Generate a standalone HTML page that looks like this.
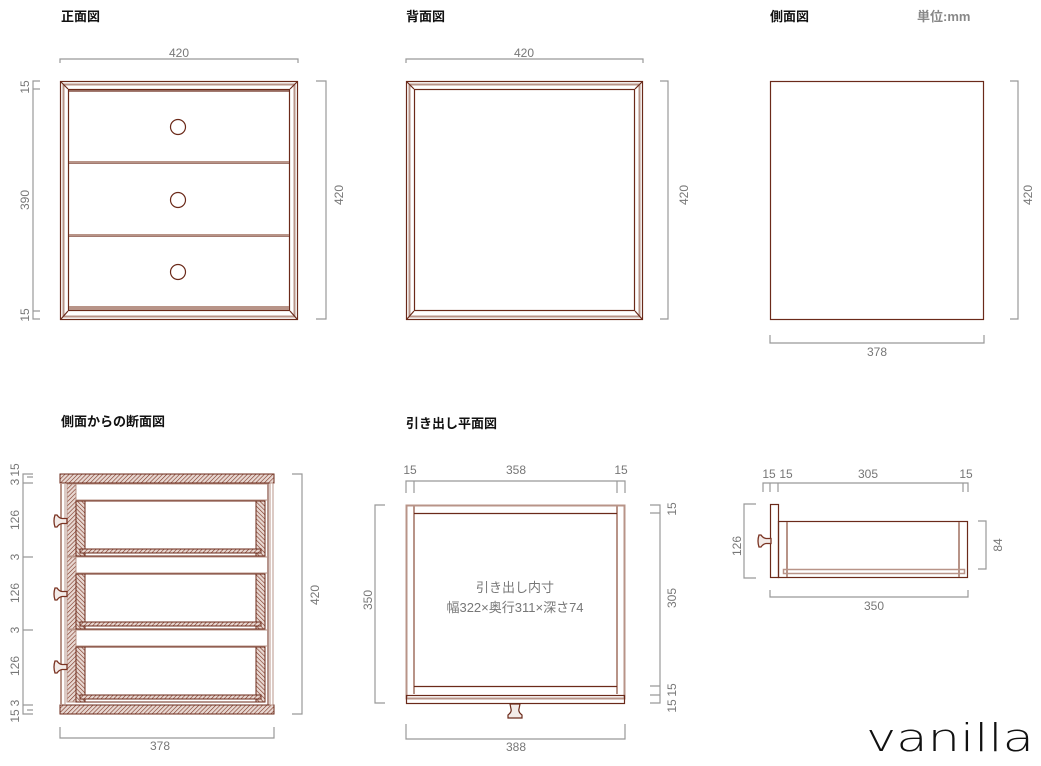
<!DOCTYPE html>
<html><head><meta charset="utf-8"><style>
body{margin:0;background:#fff;width:1041px;height:761px;overflow:hidden}
svg text{font-family:"Liberation Sans","Noto Sans CJK JP",sans-serif}
.h{font-size:13px;font-weight:bold;fill:#111}
.d{font-size:12px;fill:#777}
</style></head><body>
<svg width="1041" height="761" viewBox="0 0 1041 761" xmlns="http://www.w3.org/2000/svg">
<defs>
<pattern id="hat" patternUnits="userSpaceOnUse" width="3" height="3" patternTransform="rotate(45)">
<rect width="3" height="3" fill="#e8d8d2"/><line x1="0" y1="0" x2="0" y2="3" stroke="#7a3322" stroke-width="1.2"/>
</pattern>
<pattern id="hat2" patternUnits="userSpaceOnUse" width="3" height="3" patternTransform="rotate(-45)">
<rect width="3" height="3" fill="#e8d8d2"/><line x1="0" y1="0" x2="0" y2="3" stroke="#7a3322" stroke-width="1.2"/>
</pattern>
<g id="knobL"><path d="M15,-2.5 L10,-2.5 Q7,-3 5,-6 L3,-6 Q1,0 3,6 L5,6 Q7,3 10,2.5 L15,2.5 Z" fill="#f3ebe8" stroke="#7a3322" stroke-width="1.3"/></g>
</defs>
<text class="h" x="61" y="21">正面図</text>
<text class="h" x="406" y="21">背面図</text>
<text class="h" x="770" y="21">側面図</text>
<text x="917" y="21" style="font-size:13px;font-weight:bold;fill:#888">単位:mm</text>
<text class="h" x="61" y="426">側面からの断面図</text>
<text class="h" x="406" y="428">引き出し平面図</text>

<g fill="none" stroke="#999" stroke-width="1.2">
<path d="M60,63V59H298V63"/><path d="M40,81H33V319H40M33,89H40M33,311H40"/><path d="M316,81H326V319H316"/>
<path d="M406,63V59H643V63"/><path d="M660,81H668V319H660"/>
<path d="M1010,81H1018V319H1010"/><path d="M770,335V343H984V335"/>
<path d="M33,474H23V714H33M23,483H33M23,557H33M23,630H33M23,705H33M27,477H33M27,710H33"/>
<path d="M292,474H302V714H292"/><path d="M60,727V738H274V727"/>
<path d="M406,493V481H625V493M414,481V493M617,481V493"/>
<path d="M385,505H375V703H385"/><path d="M650,505H660V703H650M650,513H660M650,686H660M650,695H660"/>
<path d="M406,724V739H625V724"/>
<path d="M763,492V483H968V492M770,483V492M778,483V492M963,483V492"/>
<path d="M756,504H744V578H756"/><path d="M978,521H986V569H978"/><path d="M770,590V597H968V590"/>
</g>
<g class="d">
<text x="179" y="57" text-anchor="middle">420</text>
<text x="524" y="57" text-anchor="middle">420</text>
<text x="877" y="356" text-anchor="middle">378</text>
<text x="160" y="750" text-anchor="middle">378</text>
<text x="516" y="474" text-anchor="middle">358</text>
<text x="410" y="474" text-anchor="middle">15</text>
<text x="621" y="474" text-anchor="middle">15</text>
<text x="516" y="751" text-anchor="middle">388</text>
<text x="769" y="478" text-anchor="middle">15</text>
<text x="786" y="478" text-anchor="middle">15</text>
<text x="868" y="478" text-anchor="middle">305</text>
<text x="966" y="478" text-anchor="middle">15</text>
<text x="874" y="610" text-anchor="middle">350</text>
<text x="515" y="592" text-anchor="middle" style="font-size:13px">引き出し内寸</text>
<text x="515" y="612" text-anchor="middle" style="font-size:13px">幅322×奥行311×深さ74</text>
<text transform="translate(29,87) rotate(-90)" text-anchor="middle">15</text>
<text transform="translate(29,200) rotate(-90)" text-anchor="middle">390</text>
<text transform="translate(29,315) rotate(-90)" text-anchor="middle">15</text>
<text transform="translate(343,195) rotate(-90)" text-anchor="middle">420</text>
<text transform="translate(688,195) rotate(-90)" text-anchor="middle">420</text>
<text transform="translate(1032,195) rotate(-90)" text-anchor="middle">420</text>
<text transform="translate(319,595) rotate(-90)" text-anchor="middle">420</text>
<text transform="translate(372,600) rotate(-90)" text-anchor="middle">350</text>
<text transform="translate(676,509) rotate(-90)" text-anchor="middle">15</text>
<text transform="translate(676,598) rotate(-90)" text-anchor="middle">305</text>
<text transform="translate(676,690) rotate(-90)" text-anchor="middle">15</text>
<text transform="translate(676,706) rotate(-90)" text-anchor="middle">15</text>
<text transform="translate(741,546) rotate(-90)" text-anchor="middle">126</text>
<text transform="translate(1002,545) rotate(-90)" text-anchor="middle">84</text>
<text transform="translate(19,470) rotate(-90)" text-anchor="middle">15</text>
<text transform="translate(19,482) rotate(-90)" text-anchor="middle">3</text>
<text transform="translate(19,520) rotate(-90)" text-anchor="middle">126</text>
<text transform="translate(19,557) rotate(-90)" text-anchor="middle">3</text>
<text transform="translate(19,593) rotate(-90)" text-anchor="middle">126</text>
<text transform="translate(19,630) rotate(-90)" text-anchor="middle">3</text>
<text transform="translate(19,666) rotate(-90)" text-anchor="middle">126</text>
<text transform="translate(19,703) rotate(-90)" text-anchor="middle">3</text>
<text transform="translate(19,716) rotate(-90)" text-anchor="middle">15</text>
</g>

<g fill="none" stroke-width="1.2">
<rect x="60.5" y="81.5" width="237" height="238" stroke="#6b2a1a"/>
<rect x="63.5" y="84.5" width="231" height="232" stroke="#b89488" stroke-width="2"/>
<rect x="68.5" y="89.5" width="221" height="221" stroke="#6b2a1a"/>
<path d="M61,82L68,89M297,82L290,89M61,319L68,311M297,319L290,311" stroke="#6b2a1a"/>
<path d="M69,91H289M69,163H289M69,236H289" stroke="#6b2a1a"/>
<path d="M69,162H289M69,235H289" stroke="#b89488" stroke-width="2"/>
<rect x="69" y="306" width="220" height="4" fill="#b89488" stroke="none"/>
<circle cx="178" cy="127" r="7.5" stroke="#6b2a1a"/><circle cx="178" cy="200" r="7.5" stroke="#6b2a1a"/><circle cx="178" cy="272" r="7.5" stroke="#6b2a1a"/>
</g>
<g fill="none" stroke="#6b2a1a" stroke-width="1.2">
<rect x="406.5" y="81.5" width="236" height="238"/>
<rect x="409.5" y="84.5" width="230" height="232" stroke="#b89488" stroke-width="2"/>
<rect x="414.5" y="89.5" width="220" height="221"/>
<path d="M407,82L414,89M642,82L635,89M407,319L414,311M642,319L635,311"/>
</g>
<rect x="770.5" y="81.5" width="213" height="238" fill="none" stroke="#6b2a1a" stroke-width="1.2"/>

<g stroke="#6b2a1a" stroke-width="1">
<rect x="60" y="474" width="214" height="9" fill="url(#hat)"/>
<rect x="60" y="705" width="214" height="9" fill="url(#hat)"/>
<line x1="61" y1="483" x2="61" y2="705" stroke="#b89488" stroke-width="2"/>
<line x1="268" y1="483" x2="268" y2="705"/>
<rect x="270" y="483" width="3" height="222" fill="#fff" stroke="#b89488"/>
<line x1="65" y1="483" x2="65" y2="705" stroke="#b89488"/>
<g id="dr">
<rect x="67" y="484" width="9" height="72" fill="url(#hat)" stroke="#b89488"/>
<rect x="76" y="501" width="9" height="55" fill="url(#hat2)"/>
<rect x="256" y="501" width="9" height="55" fill="url(#hat2)"/>
<line x1="76" y1="556" x2="265" y2="556"/>
<rect x="80" y="549" width="181" height="4" fill="url(#hat)"/>
<line x1="76" y1="501" x2="265" y2="501"/>
<use href="#knobL" x="52" y="521"/>
<line x1="76" y1="484" x2="268" y2="484" stroke="#b89488"/>
<line x1="76" y1="500" x2="268" y2="500" stroke="#b89488"/>
</g>
<use href="#dr" y="73"/>
<use href="#dr" y="146"/>
</g>

<g fill="none" stroke-width="1.2">
<rect x="406.5" y="505.5" width="218" height="193" stroke="#b89488" stroke-width="2"/>
<rect x="406.5" y="695.5" width="218" height="8" stroke="#6b2a1a"/>
<path d="M414,506V694M617,506V694" stroke="#b89488" stroke-width="2"/>
<path d="M414,513.5H617M414,686.5H617" stroke="#6b2a1a"/>
<path d="M510,704h10l-1,5q-1,3 3,6v3h-14v-3q4,-3 3,-6z" fill="#f3ebe8" stroke="#6b2a1a"/>
</g>
<g fill="none" stroke-width="1.2">
<rect x="770.5" y="504.5" width="8" height="73" stroke="#6b2a1a"/>
<rect x="778.5" y="521.5" width="189" height="56" stroke="#6b2a1a"/>
<path d="M787,522V577M959,522V577" stroke="#b89488" stroke-width="2"/>
<rect x="783.5" y="569.5" width="181" height="4" stroke="#b89488" stroke-width="1.5"/>
<use href="#knobL" x="756" y="541"/>
</g>

<text x="866" y="751" textLength="168" lengthAdjust="spacingAndGlyphs" style="font-size:38px;fill:#111;font-family:'DejaVu Sans',sans-serif;font-weight:200">vanilla</text>
</svg>
</body></html>
